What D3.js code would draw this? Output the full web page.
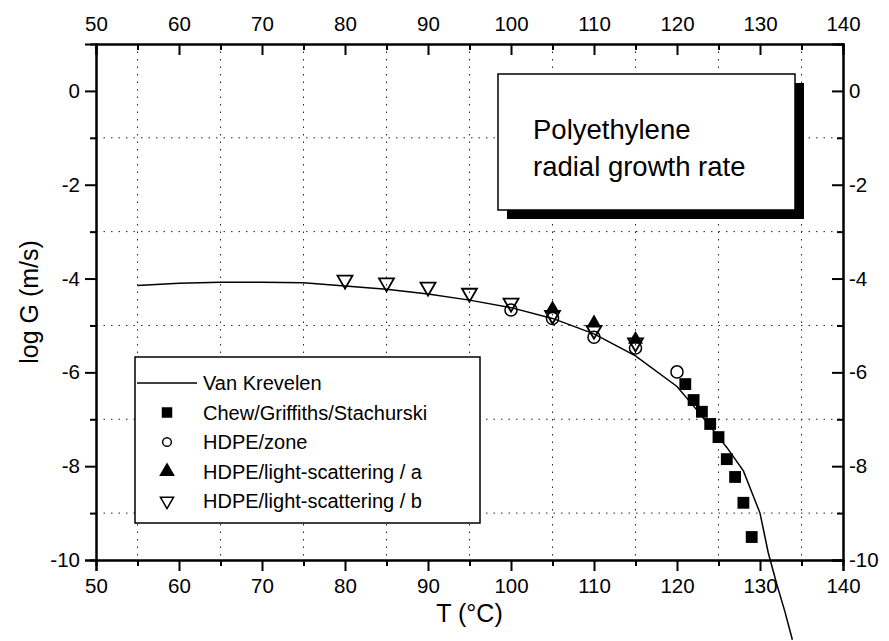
<!DOCTYPE html>
<html>
<head>
<meta charset="utf-8">
<script src="https://cdn.jsdelivr.net/npm/d3@7"></script>
<style>
  body { margin: 0; background: #fff; }
  svg { display: block; font-family: "Liberation Sans", Arial, sans-serif; }
</style>
</head>
<body>
<svg id="chart"></svg>
<script>
// Van Krevelen curve (T in °C, log G in m/s)
const vkT    = [55, 60, 65, 70, 75, 80, 85, 90, 95, 100, 105, 110, 115, 120, 122, 124, 125, 126, 127, 128, 129, 130, 131, 132, 133, 133.9]
const vkLogG = [-4.15, -4.1, -4.08, -4.08, -4.09, -4.16, -4.23, -4.33, -4.46, -4.62, -4.85, -5.18, -5.65, -6.3, -6.72, -7.15, -7.38, -7.6, -7.85, -8.1, -8.55, -9.0, -9.85, -10.5, -11.1, -11.7]

// measured points
const chewT    = [121, 122, 123, 124, 125, 126, 127, 128, 129]
const chewLogG = [-6.25, -6.59, -6.84, -7.1, -7.38, -7.85, -8.23, -8.78, -9.51]
const zoneT    = [100, 105, 110, 115, 120]
const zoneLogG = [-4.67, -4.85, -5.25, -5.48, -5.99]
const lsaT     = [105, 110, 115]
const lsaLogG  = [-4.65, -4.95, -5.3]
const lsbT     = [80, 85, 90, 95, 100, 105, 110, 115]
const lsbLogG  = [-4.03, -4.09, -4.18, -4.31, -4.52, -4.78, -5.1, -5.37]

const xTicks = [50, 60, 70, 80, 90, 100, 110, 120, 130, 140]
const xMinor = [55, 65, 75, 85, 95, 105, 115, 125, 135]
const yTicks = [0, -2, -4, -6, -8, -10]
const yMinor = [-1, -3, -5, -7, -9]

const legendLabels = ['Van Krevelen', 'Chew/Griffiths/Stachurski', 'HDPE/zone',
                      'HDPE/light-scattering / a', 'HDPE/light-scattering / b']
const titleLines = ['Polyethylene', 'radial growth rate']

const width = 889, height = 641
const margin = { top: 44, right: 46, bottom: 81, left: 96 }

const svg = d3.select('#chart').attr('width', width).attr('height', height)

const x = d3.scaleLinear().domain([50, 140]).range([margin.left, width - margin.right])
const y = d3.scaleLinear().domain([-10, 1]).range([height - margin.bottom, margin.top])

const x0 = x.range()[0], x1 = x.range()[1]
const y0 = y.range()[0], y1 = y.range()[1]

// plain hyphen minus like the original, not the unicode one
const fmt = d => String(d)
const major = 11, minor = 6

/* dotted grid at the minor positions */
const grid = svg.append('g')
  .attr('stroke', '#222')
  .attr('stroke-width', 1)
  .attr('stroke-dasharray', '1.5,6')
grid.selectAll('.gx').data(xMinor).join('line')
  .attr('x1', d => x(d)).attr('x2', d => x(d))
  .attr('y1', y1).attr('y2', y0)
grid.selectAll('.gy').data(yMinor).join('line')
  .attr('y1', d => y(d)).attr('y2', d => y(d))
  .attr('x1', x0).attr('x2', x1)

/* axes: bottom/left ticks outward, top/right ticks inward */
function styleAxis(g) {
  g.selectAll('path').attr('stroke', '#000').attr('stroke-width', 2)
  g.selectAll('line').attr('stroke', '#000').attr('stroke-width', 2)
  g.selectAll('text').attr('fill', '#000').attr('font-size', 20.5)
}

svg.append('g').attr('transform', `translate(0,${y0})`)
  .call(d3.axisBottom(x).tickValues(xTicks).tickFormat(fmt).tickSizeOuter(0).tickSize(major).tickPadding(7))
  .call(styleAxis)
svg.append('g').attr('transform', `translate(0,${y0})`)
  .call(d3.axisBottom(x).tickValues(xMinor).tickSizeOuter(0).tickSize(minor).tickFormat(''))
  .call(styleAxis)

svg.append('g').attr('transform', `translate(0,${y1})`)
  .call(d3.axisTop(x).tickValues(xTicks).tickFormat(fmt).tickSizeOuter(0).tickSize(-major).tickPadding(13))
  .call(styleAxis)
svg.append('g').attr('transform', `translate(0,${y1})`)
  .call(d3.axisTop(x).tickValues(xMinor).tickSizeOuter(0).tickSize(-minor).tickFormat(''))
  .call(styleAxis)

svg.append('g').attr('transform', `translate(${x0},0)`)
  .call(d3.axisLeft(y).tickValues(yTicks).tickFormat(fmt).tickSizeOuter(0).tickSize(major).tickPadding(5))
  .call(styleAxis)
svg.append('g').attr('transform', `translate(${x0},0)`)
  .call(d3.axisLeft(y).tickValues(yMinor).tickSizeOuter(0).tickSize(minor).tickFormat(''))
  .call(styleAxis)

svg.append('g').attr('transform', `translate(${x1},0)`)
  .call(d3.axisRight(y).tickValues(yTicks).tickFormat(fmt).tickSizeOuter(0).tickSize(-major).tickPadding(6))
  .call(styleAxis)
svg.append('g').attr('transform', `translate(${x1},0)`)
  .call(d3.axisRight(y).tickValues(yMinor).tickSizeOuter(0).tickSize(-minor).tickFormat(''))
  .call(styleAxis)

// axis titles
svg.append('text')
  .attr('x', (x0 + x1) / 2).attr('y', 622)
  .attr('text-anchor', 'middle').attr('font-size', 25)
  .text('T (°C)')
svg.append('text')
  .attr('transform', `translate(38,${(y0 + y1) / 2}) rotate(-90)`)
  .attr('text-anchor', 'middle').attr('font-size', 25)
  .text('log G (m/s)')

/* title box with shadow */
const tb = { x: 498, y: 74, w: 297, h: 136, shadow: 9 }
svg.append('rect')
  .attr('x', tb.x + tb.shadow).attr('y', tb.y + tb.shadow)
  .attr('width', tb.w).attr('height', tb.h).attr('fill', '#000')
svg.append('rect')
  .attr('x', tb.x).attr('y', tb.y).attr('width', tb.w).attr('height', tb.h)
  .attr('fill', '#fff').attr('stroke', '#000').attr('stroke-width', 1.5)
svg.append('g').selectAll('text').data(titleLines).join('text')
  .attr('x', tb.x + 35).attr('y', (d, i) => tb.y + 65 + i * 37)
  .attr('font-size', 27.5)
  .text(d => d)

/* data */
const line = d3.line().x((d, i) => x(vkT[i])).y(d => y(d))
svg.append('path')
  .datum(vkLogG)
  .attr('d', line)
  .attr('fill', 'none').attr('stroke', '#000').attr('stroke-width', 1.5)

const symSquare = d3.symbol(d3.symbolSquare, 140)
const symCircle = d3.symbol(d3.symbolCircle, 115)
const symTri = d3.symbol(d3.symbolTriangle, 97)

function pts(ts, vs) { return ts.map((t, i) => [t, vs[i]]) }

svg.append('g').selectAll('path').data(pts(zoneT, zoneLogG)).join('path')
  .attr('transform', d => `translate(${x(d[0])},${y(d[1])})`)
  .attr('d', symCircle).attr('fill', 'none').attr('stroke', '#000').attr('stroke-width', 1.5)
svg.append('g').selectAll('path').data(pts(lsbT, lsbLogG)).join('path')
  .attr('transform', d => `translate(${x(d[0])},${y(d[1])}) rotate(180)`)
  .attr('d', symTri).attr('fill', 'none').attr('stroke', '#000').attr('stroke-width', 1.8)
svg.append('g').selectAll('path').data(pts(lsaT, lsaLogG)).join('path')
  .attr('transform', d => `translate(${x(d[0])},${y(d[1])})`)
  .attr('d', symTri).attr('fill', '#000')
svg.append('g').selectAll('path').data(pts(chewT, chewLogG)).join('path')
  .attr('transform', d => `translate(${x(d[0])},${y(d[1])})`)
  .attr('d', symSquare).attr('fill', '#000')

/* legend */
const lg = { x: 135, y: 357, w: 345, h: 166, row: 29.5 }
svg.append('rect')
  .attr('x', lg.x).attr('y', lg.y).attr('width', lg.w).attr('height', lg.h)
  .attr('fill', '#fff').attr('stroke', '#000').attr('stroke-width', 1.5)

const legendMarks = [
  { type: 'line' },
  { sym: d3.symbol(d3.symbolSquare, 81), fill: '#000' },
  { sym: d3.symbol(d3.symbolCircle, 60), fill: 'none' },
  { sym: d3.symbol(d3.symbolTriangle, 75), fill: '#000' },
  { sym: d3.symbol(d3.symbolTriangle, 75), fill: 'none', rot: 180 }
]
const rows = svg.append('g').selectAll('g').data(legendLabels).join('g')
  .attr('transform', (d, i) => `translate(${lg.x},${lg.y + 26 + i * lg.row})`)
rows.append('text')
  .attr('x', 68).attr('y', 7)
  .attr('font-size', 20)
  .text(d => d)
rows.each(function (d, i) {
  const m = legendMarks[i], g = d3.select(this)
  if (m.type === 'line') {
    g.append('line').attr('x1', 2).attr('x2', 62).attr('y1', 0).attr('y2', 0)
      .attr('stroke', '#000').attr('stroke-width', 1.5)
  } else {
    g.append('path')
      .attr('transform', `translate(32,0) rotate(${m.rot || 0})`)
      .attr('d', m.sym)
      .attr('fill', m.fill).attr('stroke', '#000').attr('stroke-width', 1.5)
  }
})
</script>
</body>
</html>
